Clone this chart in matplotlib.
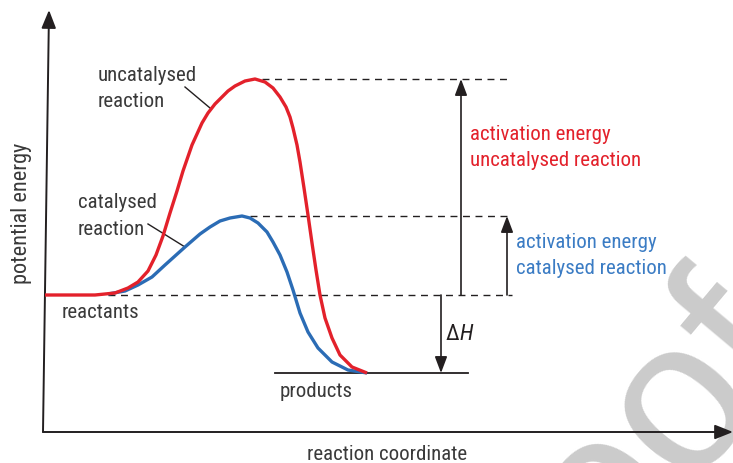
import matplotlib
matplotlib.use("Agg")
import matplotlib.pyplot as plt
import matplotlib.font_manager as fm

# ---------------- data (x = reaction coordinate, y = potential energy, reactants = 0) ----------------
uncat_x = [45, 95, 115, 128, 138, 148, 156, 163, 170, 177, 183, 192, 202, 208, 215, 222, 228, 235, 245,
           255, 265, 273, 280, 286, 290, 293, 297, 300, 304, 308, 312, 316, 320, 325, 332, 340, 352, 367]
uncat_E = [0, 0, 2, 7, 13, 24, 40, 59, 82, 104, 124, 150, 172, 182, 191, 198, 204, 209, 214,
           216, 213, 207, 198, 188, 178, 167, 150, 133, 107, 80, 52, 25, 0, -23, -43, -60, -72, -78]

cat_x = [108, 125, 138, 152, 165, 185, 200, 210, 220, 230, 242, 250, 258, 267, 273, 280,
         287, 293, 300, 308, 318, 332, 348, 367]
cat_E = [1, 4, 10, 18, 30, 48, 61, 68, 74, 77, 79, 77, 72, 63, 53, 40,
         23, 5, -18, -37, -53, -67, -75, -78]

reactant_E = 0
uncat_peak_E = 216
cat_peak_E = 79
product_E = -78

labels = {
    "uncat": ["uncatalysed", "reaction"],
    "cat": ["catalysed", "reaction"],
    "reactants": "reactants",
    "products": "products",
    "ea_uncat": ["activation energy", "uncatalysed reaction"],
    "ea_cat": ["activation energy", "catalysed reaction"],
    "xlabel": "reaction coordinate",
    "ylabel": "potential energy",
    "delta": "\u0394",
    "H": "H",
}

RED = "#e3212b"
BLUE = "#2b6cb5"
BLUE_TXT = "#3b7cc4"
TXT = "#3a3a3a"
INK = "#231f20"

# pick a narrow / condensed sans font if one is installed
prefs = ["Liberation Sans Narrow", "DejaVu Sans Condensed", "Roboto Condensed", "Open Sans Condensed",
         "Noto Sans Condensed", "Arial Narrow"]
found_file = None
found_name = None
for pname in prefs:
    for f in fm.fontManager.ttflist:
        if f.name == pname and f.style == "normal" and f.weight in (400, "normal", "regular", "book"):
            found_file, found_name = f.fname, f.name
            break
    if found_file:
        break
if found_file is None:
    for f in fm.fontManager.ttflist:
        tag = (f.fname + f.name).lower()
        if ("narrow" in tag or "condensed" in tag) and f.style == "normal" \
                and "bold" not in tag and "oblique" not in tag and "italic" not in tag:
            found_file, found_name = f.fname, f.name
            break


def fp(size, italic=False):
    if found_file is None:
        return fm.FontProperties(family=["Roboto", "DejaVu Sans"], size=size,
                                 style="italic" if italic else "normal")
    if italic:
        return fm.FontProperties(family=[found_name, "DejaVu Sans"], style="italic", size=size)
    return fm.FontProperties(fname=found_file, size=size)


FS = 15
main_fp = fp(FS)

fig = plt.figure(figsize=(7.33, 4.63), dpi=100)
ax = fig.add_axes([0, 0, 1, 1])
ax.set_xlim(0, 733)
ax.set_ylim(-168, 295)
ax.axis("off")

# watermark
ax.text(642, -237, "proof", rotation=50, rotation_mode="anchor", ha="center", va="baseline",
        fontsize=155, color="#cbcbcb", family=["Liberation Sans", "DejaVu Sans"], zorder=0)

# axes with arrows
ax.annotate("", xy=(49, 285), xytext=(43, -137),
            arrowprops=dict(arrowstyle="-|>,head_length=0.5,head_width=0.2", mutation_scale=22,
                            lw=1.4, color=INK, shrinkA=0, shrinkB=0), zorder=3)
ax.annotate("", xy=(733, -137), xytext=(43, -137),
            arrowprops=dict(arrowstyle="-|>,head_length=0.5,head_width=0.2", mutation_scale=22,
                            lw=1.4, color=INK, shrinkA=0, shrinkB=0), zorder=3)

# dashed energy levels
dash = dict(color=INK, lw=1.0, ls=(0, (5, 4)), zorder=2)
ax.plot([262, 510], [uncat_peak_E, uncat_peak_E], **dash)
ax.plot([250, 512], [cat_peak_E, cat_peak_E], **dash)
ax.plot([108, 512], [reactant_E, reactant_E], **dash)
# products level
ax.plot([275, 468], [product_E, product_E], color=INK, lw=1.3, zorder=2)

# curves
ax.plot(cat_x, cat_E, color=BLUE, lw=2.4, solid_capstyle="butt", solid_joinstyle="round", zorder=4)
ax.plot(uncat_x, uncat_E, color=RED, lw=2.4, solid_capstyle="butt", solid_joinstyle="round", zorder=5)

# arrows for activation energies and enthalpy
arr = dict(arrowstyle="-|>,head_length=0.45,head_width=0.17", mutation_scale=22,
           lw=1.2, color=INK, shrinkA=0, shrinkB=0)
ax.annotate("", xy=(461, uncat_peak_E), xytext=(461, reactant_E), arrowprops=arr, zorder=3)
ax.annotate("", xy=(507, cat_peak_E), xytext=(507, reactant_E), arrowprops=arr, zorder=3)
ax.annotate("", xy=(441, product_E), xytext=(441, reactant_E), arrowprops=arr, zorder=3)

# leader lines
ax.plot([185, 210], [295 - 87, 295 - 108], color=INK, lw=1.0, zorder=3)
ax.plot([148, 185], [295 - 224, 295 - 247], color=INK, lw=1.0, zorder=3)


def lines(x, baselines, texts, color=TXT):
    for b, t in zip(baselines, texts):
        ax.text(x, 295 - b, t, ha="left", va="baseline", fontproperties=main_fp, color=color, zorder=6)


lines(98, [81, 107], labels["uncat"])
lines(78, [208, 235], labels["cat"])
lines(62, [318], [labels["reactants"]])
lines(280, [397], [labels["products"]])
lines(470, [140, 166], labels["ea_uncat"], color=RED)
lines(516, [248, 274], labels["ea_cat"], color=BLUE_TXT)
ax.text(446, 295 - 340, labels["delta"], ha="left", va="baseline", fontproperties=fp(16), color=INK, zorder=6)
ax.text(459, 295 - 340, labels["H"], ha="left", va="baseline", fontproperties=fp(16, italic=True),
        color=INK, zorder=6)
ax.text(307, 295 - 460, labels["xlabel"], ha="left", va="baseline", fontproperties=main_fp, color=TXT)
ax.text(27, 295 - 284, labels["ylabel"], ha="left", va="baseline", rotation=90, rotation_mode="anchor",
        fontproperties=fp(16), color=TXT)

fig.savefig("out.png", dpi=100)
